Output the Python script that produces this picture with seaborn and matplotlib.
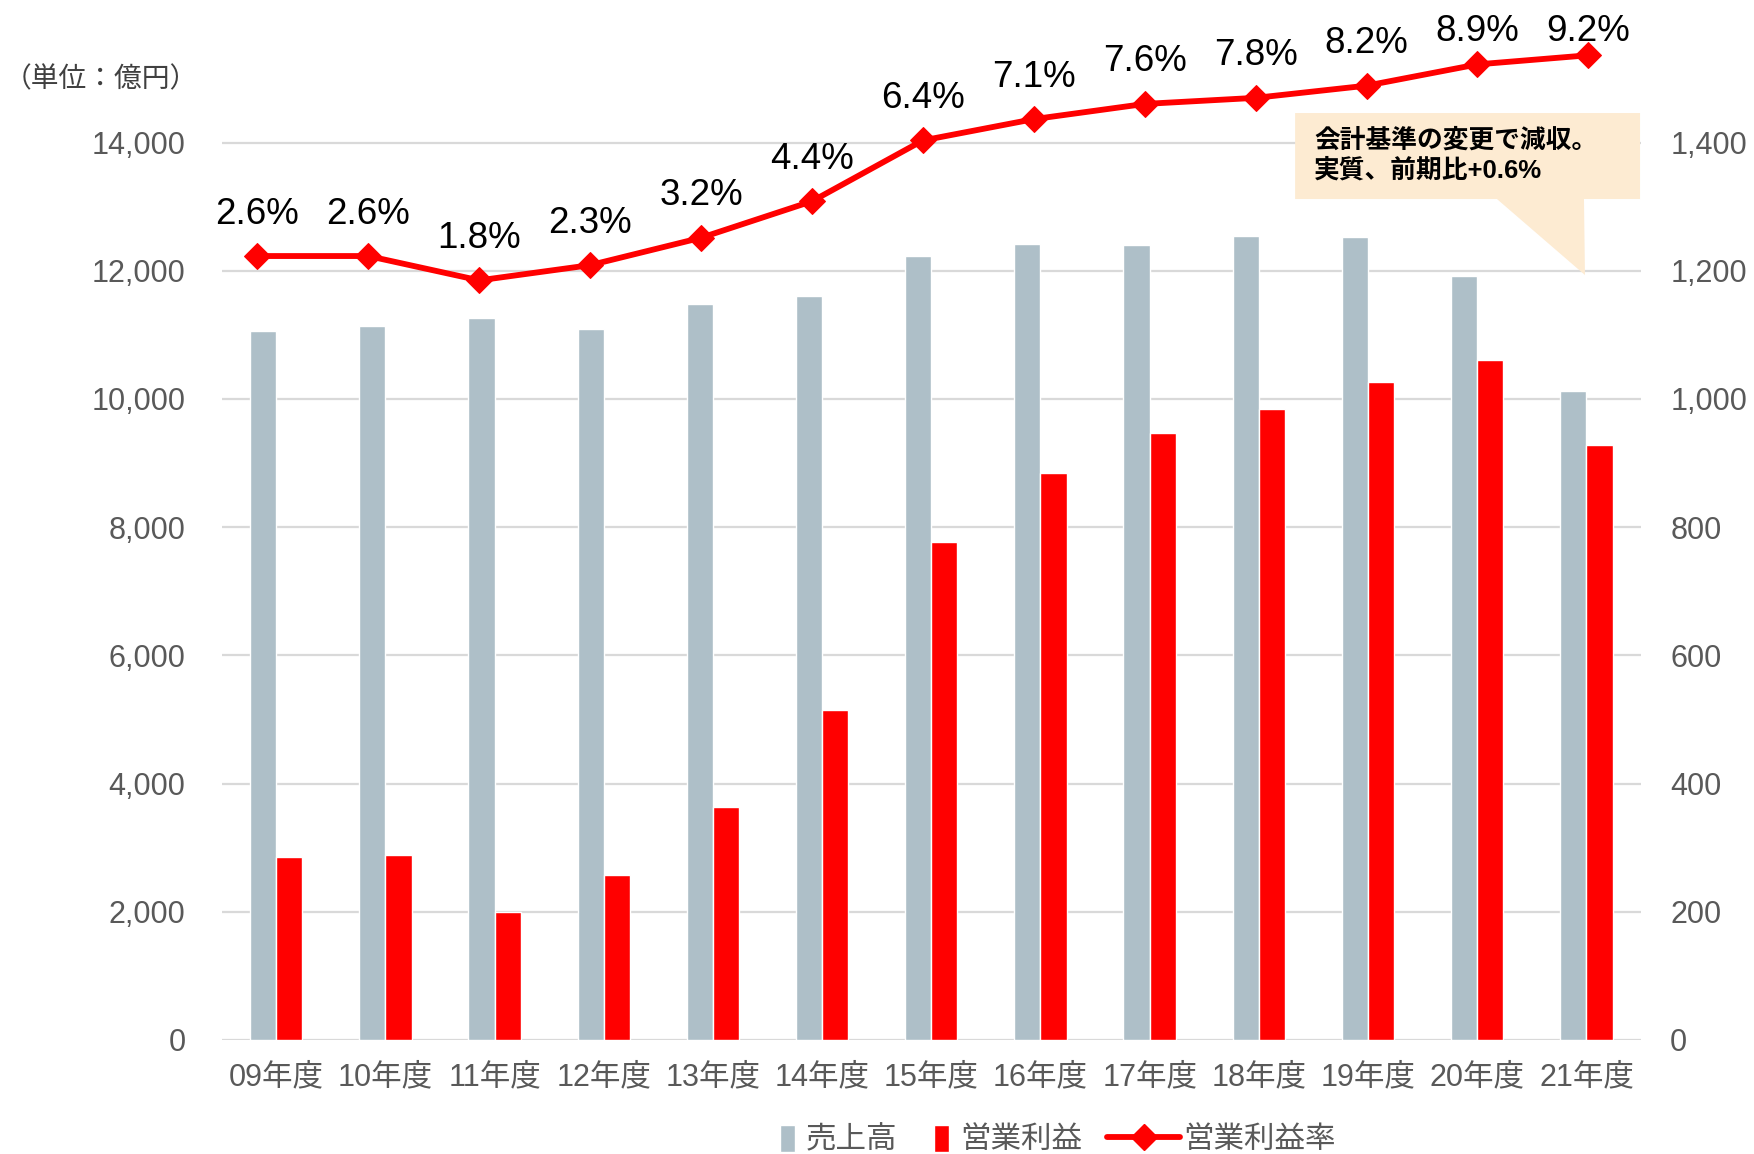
import numpy as np
import pandas as pd
import matplotlib
matplotlib.use('Agg')
import matplotlib.pyplot as plt
import seaborn as sns
from matplotlib.patches import Patch, Polygon, Rectangle
from matplotlib.lines import Line2D
from matplotlib.legend_handler import HandlerPatch
from matplotlib.ticker import FuncFormatter

# data
years = ['09年度', '10年度', '11年度', '12年度', '13年度', '14年度', '15年度',
         '16年度', '17年度', '18年度', '19年度', '20年度', '21年度']
sales = [11060, 11140, 11260, 11090, 11480, 11610, 12230,
         12420, 12400, 12540, 12520, 11920, 10130]          # 売上高 (left axis)
op_profit = [286, 288, 200, 258, 364, 515, 777,
             884, 947, 984, 1027, 1061, 928]                 # 営業利益 (right axis)
margin = [2.6, 2.6, 1.8, 2.3, 3.2, 4.4, 6.4, 7.1, 7.6, 7.8, 8.2, 8.9, 9.2]  # 営業利益率 %
series = ['売上高', '営業利益']
line_name = '営業利益率'
note = '会計基準の変更で減収。\n実質、前期比+0.6%'

GREY = '#AEBFC8'
RED = '#FF0000'
TICK = '#595959'

sns.set_theme(style='white')
plt.rcParams['font.family'] = ['Liberation Sans', 'Noto Sans CJK JP']

df = pd.DataFrame({
    '年度': years * 2,
    '系列': [series[0]] * len(years) + [series[1]] * len(years),
    '値': sales + op_profit,
})
palette = {series[0]: GREY, series[1]: RED}

fig = plt.figure(figsize=(17.54, 11.54), dpi=100)
rect = [0.1263, 0.0988, 0.8093, 0.8665]
ax = fig.add_axes(rect)
ax2 = ax.twinx()
# the margin line has its own (secondary) x scale, like the original chart
ax3 = fig.add_axes(rect)

# grey bars on the left axis
sns.barplot(data=df[df['系列'] == series[0]], x='年度', y='値', hue='系列',
            hue_order=series, order=years, palette=palette, dodge=True,
            width=0.48, saturation=1, errorbar=None, legend=False, ax=ax)
# red bars on the right axis
sns.barplot(data=df[df['系列'] == series[1]], x='年度', y='値', hue='系列',
            hue_order=series, order=years, palette=palette, dodge=True,
            width=0.48, saturation=1, errorbar=None, legend=False, ax=ax2)

# margin line
sns.lineplot(x=np.arange(len(years)), y=margin, ax=ax3, color=RED, lw=4.2,
             marker='D', markersize=13.5, markeredgecolor=RED, zorder=5)

top = 15600
ax.set_ylim(0, top)
ax2.set_ylim(0, top / 10)
ax.set_xlim(-0.5, len(years) - 0.5)
ax3.set_ylim(-23.17, 9.70)
ax3.set_xlim(-0.323, 12.475)
ax3.set_axis_off()

# labels sit above each point, but never above the top of the chart
lift, cap = 1.38, 9.97
for i, m in enumerate(margin):
    ax3.text(i, min(m + lift, cap), f'{m:.1f}%', ha='center', va='center',
             fontsize=26.5, color='black', clip_on=False)

ax.set_yticks(np.arange(0, 14001, 2000))
ax.yaxis.set_major_formatter(FuncFormatter(lambda v, p: f'{int(v):,}'))
ax2.set_yticks(np.arange(0, 1401, 200))
ax2.yaxis.set_major_formatter(FuncFormatter(lambda v, p: f'{int(v):,}'))

ax.yaxis.grid(True, color='#D9D9D9', lw=1.6)
ax.set_axisbelow(True)
for a in (ax, ax2):
    for s in a.spines.values():
        s.set_visible(False)
    a.set_xlabel('')
    a.set_ylabel('')

ax.tick_params(axis='y', length=0, pad=26, labelsize=22, labelcolor=TICK)
ax2.tick_params(axis='y', length=0, pad=21, labelsize=22, labelcolor=TICK)
ax.tick_params(axis='x', length=0, pad=16, labelsize=22, labelcolor=TICK)

# callout box
callout = Polygon([(0.7563, 0.927), (0.9993, 0.927), (0.9993, 0.841), (0.9598, 0.841),
                   (0.9605, 0.765), (0.8985, 0.841), (0.7563, 0.841)],
                  closed=True, transform=ax3.transAxes, facecolor='#FDEBD2',
                  edgecolor='none', clip_on=False, zorder=2)
ax3.add_patch(callout)
ax3.text(0.7697, 0.8845, note, transform=ax3.transAxes, ha='left', va='center',
         fontsize=18.5, fontweight='bold', color='black', linespacing=1.3, zorder=3)

fig.text(0.002, 0.931, '（単位：億円）', ha='left', va='center', fontsize=20, color='#404040')


def narrow_patch(legend, orig_handle, xdescent, ydescent, width, height, fontsize):
    return Rectangle((xdescent, ydescent - height * 0.2), width, height * 1.3)


# two legends side by side: square handles for bars, long handle for the line
leg_kw = dict(frameon=False, fontsize=22, labelcolor=TICK, borderpad=0,
              borderaxespad=0, loc='center left')
leg1 = fig.legend([Patch(facecolor=GREY), Patch(facecolor=RED)], series,
                  bbox_to_anchor=(0.4447, 0.012), ncol=2, handlelength=0.5,
                  handletextpad=0.35, columnspacing=1.2,
                  handler_map={Patch: HandlerPatch(patch_func=narrow_patch)}, **leg_kw)
leg2 = fig.legend([Line2D([], [], color=RED, lw=4.2, marker='D', markersize=13.5)],
                  [line_name], bbox_to_anchor=(0.6311, 0.012), handlelength=2.4,
                  handletextpad=0.1, **leg_kw)

fig.savefig('out.png', dpi=100)
